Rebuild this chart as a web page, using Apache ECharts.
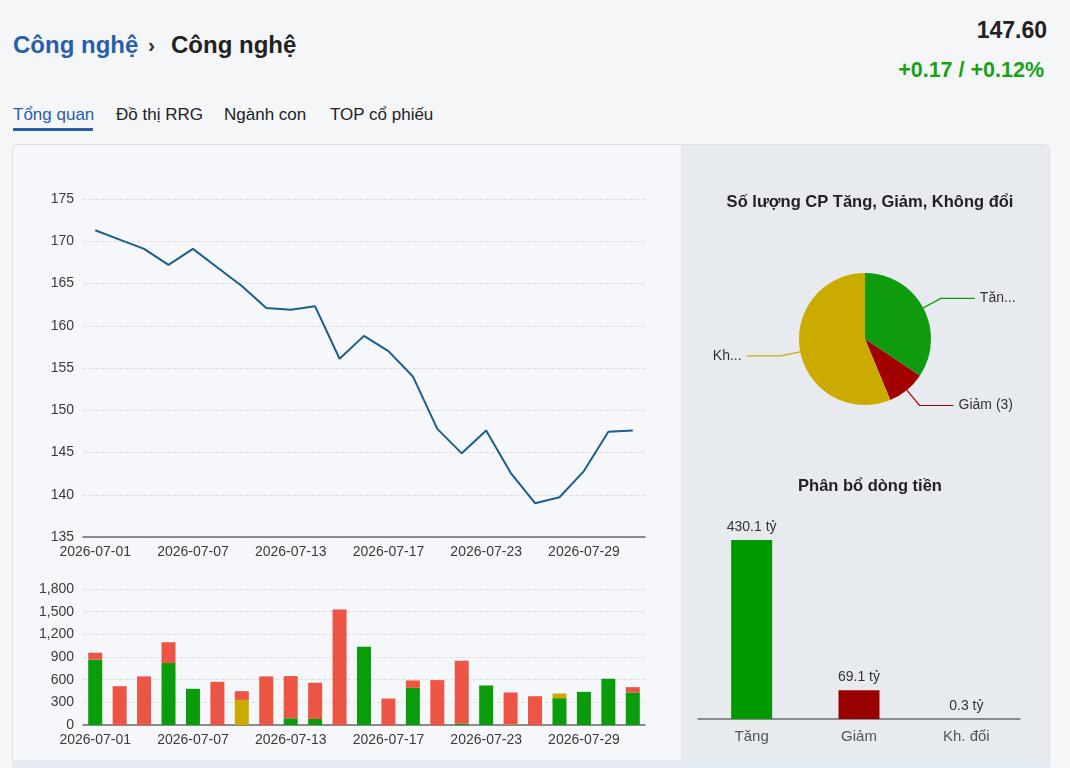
<!DOCTYPE html>
<html>
<head>
<meta charset="utf-8">
<script src="https://cdn.jsdelivr.net/npm/echarts@6/dist/echarts.min.js"></script>
<style>
  html, body { margin: 0; padding: 0; }
  body {
    width: 1070px; height: 768px; overflow: hidden; position: relative;
    background: #f5f6f8; font-family: 'Liberation Sans', Arial, Helvetica, sans-serif; color: #222;
  }
  .abs { position: absolute; white-space: nowrap; }
  .crumb { top: 30px; font-size: 24px; font-weight: bold; line-height: 30px; }
  .tab { top: 104px; font-size: 17px; line-height: 22px; color: #222; }
  #panel {
    position: absolute; left: 12px; top: 144px; width: 1036px; height: 640px;
    border: 1.5px solid #dcdfe3; border-radius: 5px; background: #f5f7fa; overflow: hidden;
  }
  #panelRight { position: absolute; left: 668px; top: 0; width: 370px; height: 100%; background: #e7eaee; }
  #bottomStrip { position: absolute; left: 12px; top: 760px; width: 1038px; height: 8px; background: #e3eaf2; }
  #chart { position: absolute; left: 0; top: 0; width: 1070px; height: 768px; }
</style>
</head>
<body>
  <div class="abs crumb" style="left:13px;color:#2a5ea8;">Công nghệ</div>
  <div class="abs crumb" style="left:148px;color:#333;font-size:21px;">›</div>
  <div class="abs crumb" style="left:171px;color:#222;">Công nghệ</div>
  <div class="abs" style="right:23px;top:17px;font-size:23px;font-weight:bold;color:#222;">147.60</div>
  <div class="abs" style="right:26px;top:58px;font-size:21.5px;font-weight:bold;color:#17a317;">+0.17 / +0.12%</div>

  <div class="abs tab" style="left:13px;color:#2a5ea8;">Tổng quan</div>
  <div class="abs" style="left:13px;top:128px;width:80px;height:3px;background:#2a5ea8;"></div>
  <div class="abs tab" style="left:116px;">Đồ thị RRG</div>
  <div class="abs tab" style="left:224px;">Ngành con</div>
  <div class="abs tab" style="left:330px;">TOP cổ phiếu</div>

  <div id="panel"><div id="panelRight"></div></div>
  <div id="bottomStrip"></div>
  <div id="chart"></div>

<script>
// trading days of the month
const dates = ['2026-07-01','2026-07-02','2026-07-03','2026-07-06','2026-07-07','2026-07-08','2026-07-09','2026-07-10',
  '2026-07-13','2026-07-14','2026-07-15','2026-07-16','2026-07-17','2026-07-20','2026-07-21','2026-07-22',
  '2026-07-23','2026-07-24','2026-07-27','2026-07-28','2026-07-29','2026-07-30','2026-07-31']
const closeValues = [171.3, 170.2, 169.1, 167.2, 169.1, 166.9, 164.7, 162.1, 161.9, 162.3, 156.1, 158.8,
  157.0, 154.0, 147.8, 144.9, 147.6, 142.6, 139.0, 139.7, 142.8, 147.45, 147.6]
const priceTicks = { min: 135, max: 175, step: 5 }

// volume split by up / flat / down stocks
const upVol = [864, 0, 0, 820, 479, 0, 0, 0, 89, 80, 0, 1037, 0, 492, 0, 20, 523, 0, 0, 355, 439, 612, 430]
const flatVol = [0, 0, 0, 0, 0, 0, 332, 0, 0, 0, 0, 0, 0, 0, 0, 0, 0, 10, 0, 62, 0, 0, 0]
const downVol = [93, 514, 643, 275, 0, 572, 116, 643, 558, 479, 1529, 0, 350, 98, 594, 831, 0, 420, 381, 0, 0, 0, 71]
const volTicks = { min: 0, max: 1800, step: 300 }

// so luong CP
const breadthNames = ['Tăng', 'Giảm', 'Không đổi']
const breadthCounts = [11, 3, 18]

// phan bo dong tien (ty)
const flowNames = ['Tăng', 'Giảm', 'Kh. đổi']
const flowValues = [430.1, 69.1, 0.3]

const FONT = "'Liberation Sans', Arial, Helvetica, sans-serif"
const GREEN = '#0a9c0a'
const RED = '#ec5443'
const YELLOW = '#cbab00'

const chart = echarts.init(document.getElementById('chart'), null, { renderer: 'canvas' })

const axisLabel = { color: '#3a3a3a', fontSize: 14, fontFamily: FONT }
const dashed = { show: true, lineStyle: { type: 'dashed', color: '#dedede', width: 1 } }

chart.setOption({
  animation: false,
  textStyle: { fontFamily: FONT },
  title: [
    { text: 'Số lượng CP Tăng, Giảm, Không đổi', left: 865, top: 189, textAlign: 'center',
      textStyle: { fontSize: 16.5, fontWeight: 'bold', color: '#222', fontFamily: FONT } },
    { text: 'Phân bổ dòng tiền', left: 865, top: 473, textAlign: 'center',
      textStyle: { fontSize: 16.5, fontWeight: 'bold', color: '#222', fontFamily: FONT } }
  ],
  grid: [
    { left: 83, top: 199, width: 562, height: 338 },
    { left: 83, top: 589, width: 562, height: 136 },
    { left: 698, top: 511, width: 322, height: 208 }
  ],
  xAxis: [
    { gridIndex: 0, type: 'category', data: dates, boundaryGap: true,
      axisLine: { lineStyle: { color: '#6b6b6b', width: 1.5 } }, axisTick: { show: false },
      axisLabel: Object.assign({ interval: 3, margin: 8 }, axisLabel) },
    { gridIndex: 1, type: 'category', data: dates, boundaryGap: true,
      axisLine: { lineStyle: { color: '#6b6b6b', width: 1.5 } }, axisTick: { show: false },
      axisLabel: Object.assign({ interval: 3, margin: 8 }, axisLabel) },
    { gridIndex: 2, type: 'category', data: flowNames,
      axisLine: { lineStyle: { color: '#6b6b6b', width: 1.5 } }, axisTick: { show: false },
      axisLabel: { color: '#555', fontSize: 15, fontFamily: FONT, margin: 10 } }
  ],
  yAxis: [
    { gridIndex: 0, type: 'value', min: priceTicks.min, max: priceTicks.max, interval: priceTicks.step,
      axisLine: { show: false }, axisTick: { show: false }, splitLine: dashed,
      axisLabel: Object.assign({ margin: 9 }, axisLabel) },
    { gridIndex: 1, type: 'value', min: volTicks.min, max: volTicks.max, interval: volTicks.step,
      axisLine: { show: false }, axisTick: { show: false }, splitLine: dashed,
      axisLabel: Object.assign({ margin: 9, formatter: v => v.toLocaleString('en-US') }, axisLabel) },
    { gridIndex: 2, type: 'value', min: 0, max: 500, show: false }
  ],
  series: [
    { type: 'line', xAxisIndex: 0, yAxisIndex: 0, data: closeValues, showSymbol: false,
      lineStyle: { color: '#1c5e8b', width: 2 } },
    { name: 'Tăng', type: 'bar', stack: 'vol', xAxisIndex: 1, yAxisIndex: 1, data: upVol,
      barWidth: 14, itemStyle: { color: GREEN } },
    { name: 'Không đổi', type: 'bar', stack: 'vol', xAxisIndex: 1, yAxisIndex: 1, data: flatVol,
      barWidth: 14, itemStyle: { color: YELLOW } },
    { name: 'Giảm', type: 'bar', stack: 'vol', xAxisIndex: 1, yAxisIndex: 1, data: downVol,
      barWidth: 14, itemStyle: { color: RED } },
    { type: 'pie', center: [865, 339], radius: 66, startAngle: 90, clockwise: true,
      data: breadthNames.map((n, i) => ({
        name: n, value: breadthCounts[i],
        itemStyle: { color: ['#0e9c0e', '#a20000', '#cbab00'][i] },
        label: i === 0 ? { width: 40, overflow: 'truncate' } : (i === 2 ? { width: 32, overflow: 'truncate' } : {})
      })),
      label: { formatter: '{b} ({c})', color: '#333', fontSize: 14, fontFamily: FONT },
      labelLine: { length: 20, length2: 34, lineStyle: { width: 1.2 } } },
    { type: 'bar', xAxisIndex: 2, yAxisIndex: 2, barWidth: 41,
      data: flowValues.map((v, i) => ({ value: v, itemStyle: { color: ['#009900', '#990000', '#888888'][i] } })),
      label: { show: true, position: 'top', distance: 6, formatter: '{c} tỷ', color: '#333', fontSize: 14, fontFamily: FONT } }
  ]
})
</script>
</body>
</html>
